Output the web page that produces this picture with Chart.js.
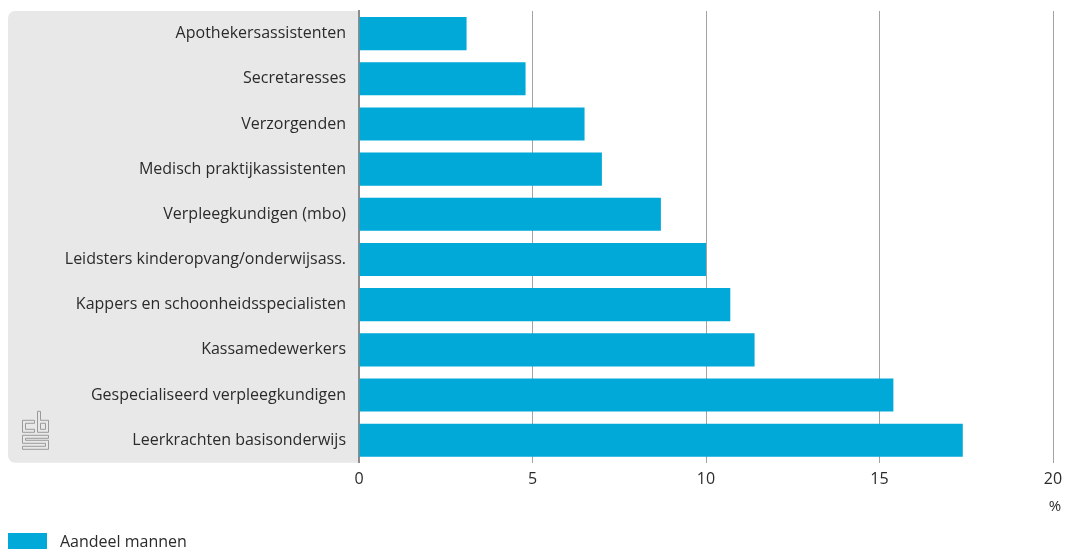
<!DOCTYPE html>
<html>
<head>
<meta charset="utf-8">
<script src="https://cdn.jsdelivr.net/npm/chart.js@4"></script>
<style>
html,body{margin:0;padding:0;background:#fff;overflow:hidden}
#wrap{width:1065px;height:549px;position:relative}
</style>
</head>
<body>
<div id="wrap"><canvas id="c"></canvas></div>
<script>
const categories = [
  "Apothekersassistenten",
  "Secretaresses",
  "Verzorgenden",
  "Medisch praktijkassistenten",
  "Verpleegkundigen (mbo)",
  "Leidsters kinderopvang/onderwijsass.",
  "Kappers en schoonheidsspecialisten",
  "Kassamedewerkers",
  "Gespecialiseerd verpleegkundigen",
  "Leerkrachten basisonderwijs"
];
const aandeelMannen = [3.1, 4.8, 6.5, 7.0, 8.7, 10.0, 10.7, 11.4, 15.4, 17.4];
const seriesLabel = "Aandeel mannen";
const xTicks = [0, 5, 10, 15, 20];
const unitLabel = "%";

const FONT = "'Open Sans', sans-serif";
const TEXT = "#2b2b2b";
const BLUE = "#00a9d8";

const decor = {
  id: "decor",
  beforeDraw(chart) {
    const ctx = chart.ctx, ca = chart.chartArea;
    const x0 = 8, x1 = ca.left, y0 = ca.top, y1 = ca.bottom, r = 7;
    ctx.save();
    ctx.fillStyle = "#e8e8e8";
    ctx.beginPath();
    ctx.moveTo(x1, y0);
    ctx.lineTo(x0 + r, y0);
    ctx.arcTo(x0, y0, x0, y0 + r, r);
    ctx.lineTo(x0, y1 - r);
    ctx.arcTo(x0, y1, x0 + r, y1, r);
    ctx.lineTo(x1, y1);
    ctx.closePath();
    ctx.fill();
    // cbs logo
    ctx.strokeStyle = "#9a9a9a";
    ctx.lineWidth = 1;
    const L = (pts) => { ctx.beginPath(); ctx.moveTo(pts[0][0]+0.5, pts[0][1]+0.5); for (let i=1;i<pts.length;i++) ctx.lineTo(pts[i][0]+0.5, pts[i][1]+0.5); ctx.stroke(); };
    const ox = 22, oy = y1 - 52;
    // c
    L([[ox+12,oy+9],[ox,oy+9],[ox,oy+21],[ox+12,oy+21]]);
    L([[ox+12,oy+12],[ox+3,oy+12],[ox+3,oy+18],[ox+12,oy+18]]);
    L([[ox+12,oy+9],[ox+12,oy+12]]);
    L([[ox+12,oy+18],[ox+12,oy+21]]);
    // b
    L([[ox+15,oy],[ox+15,oy+21],[ox+26,oy+21],[ox+26,oy+9],[ox+18,oy+9],[ox+18,oy],[ox+15,oy]]);
    L([[ox+18,oy+12],[ox+23,oy+12],[ox+23,oy+18],[ox+18,oy+18],[ox+18,oy+12]]);
    // s
    L([[ox+26,oy+24],[ox,oy+24],[ox,oy+32],[ox+23,oy+32],[ox+23,oy+35],[ox,oy+35],[ox,oy+38],[ox+26,oy+38],[ox+26,oy+29],[ox+3,oy+29],[ox+3,oy+27],[ox+26,oy+27],[ox+26,oy+24]]);
    ctx.restore();
  },
  afterDraw(chart) {
    const ctx = chart.ctx;
    const xs = chart.scales.x;
    ctx.save();
    ctx.fillStyle = TEXT;
    ctx.font = "15px " + FONT;
    ctx.textAlign = "center";
    ctx.textBaseline = "middle";
    ctx.fillText(unitLabel, xs.getPixelForValue(xTicks[xTicks.length-1]) + 2, 507);
    // legend
    ctx.fillStyle = chart.data.datasets[0].backgroundColor;
    ctx.fillRect(8, 533, 39, 18);
    ctx.fillStyle = TEXT;
    ctx.font = "16px " + FONT;
    ctx.textAlign = "left";
    ctx.fillText(chart.data.datasets[0].label, 60, 542);
    ctx.restore();
  }
};

new Chart(document.getElementById("c"), {
  type: "bar",
  data: {
    labels: categories,
    datasets: [{
      label: seriesLabel,
      data: aandeelMannen,
      backgroundColor: BLUE,
      borderWidth: 0,
      categoryPercentage: 0.733,
      barPercentage: 1.0
    }]
  },
  options: {
    indexAxis: "y",
    responsive: true,
    maintainAspectRatio: false,
    animation: false,
    layout: { padding: { left: 8, top: 11, right: 12, bottom: 53 } },
    plugins: { legend: { display: false }, tooltip: { enabled: false } },
    scales: {
      x: {
        min: 0, max: 20,
        afterBuildTicks(scale) { scale.ticks = xTicks.map(v => ({ value: v })); },
        afterFit(scale) { scale.paddingLeft = 0; scale.paddingRight = 0; },
        grid: {
          drawTicks: false,
          color: (c) => c.tick && c.tick.value === 0 ? "rgba(0,0,0,0)" : "#a3a3a3",
          lineWidth: 1
        },
        border: { display: false },
        ticks: { color: TEXT, font: { family: FONT, size: 16 }, padding: 7 }
      },
      y: {
        afterFit(scale) { scale.width = 351; scale.paddingTop = 0; scale.paddingBottom = 0; },
        grid: { display: false, drawTicks: false },
        border: { display: true, color: "#8c8c8c", width: 2 },
        ticks: { color: TEXT, font: { family: FONT, size: 16 }, padding: 13 }
      }
    }
  },
  plugins: [decor]
});
</script>
</body>
</html>
